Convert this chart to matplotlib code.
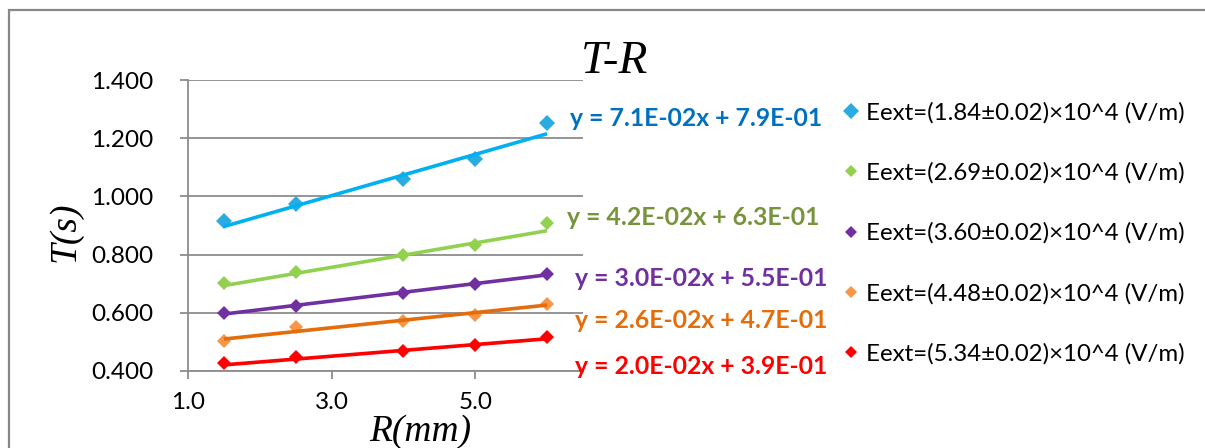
import numpy as np
import matplotlib
matplotlib.use("Agg")
import matplotlib.pyplot as plt
from matplotlib.patches import Rectangle
from matplotlib.ticker import FormatStrFormatter

# radius R (mm) and period T (s) for each external field
R = [1.5, 2.5, 4.0, 5.0, 6.0]
T_184 = [0.916, 0.974, 1.059, 1.128, 1.252]
T_269 = [0.703, 0.741, 0.798, 0.833, 0.908]
T_360 = [0.598, 0.624, 0.667, 0.699, 0.732]
T_448 = [0.503, 0.549, 0.572, 0.591, 0.630]
T_534 = [0.425, 0.448, 0.469, 0.488, 0.516]

legend_labels = [
    "Eext=(1.84\u00b10.02)\u00d710^4 (V/m)",
    "Eext=(2.69\u00b10.02)\u00d710^4 (V/m)",
    "Eext=(3.60\u00b10.02)\u00d710^4 (V/m)",
    "Eext=(4.48\u00b10.02)\u00d710^4 (V/m)",
    "Eext=(5.34\u00b10.02)\u00d710^4 (V/m)",
]

# linear trendlines y = a*x + b
slopes = [7.1e-02, 4.2e-02, 3.0e-02, 2.6e-02, 2.0e-02]
intercepts = [7.9e-01, 6.3e-01, 5.5e-01, 4.7e-01, 3.9e-01]

series = [T_184, T_269, T_360, T_448, T_534]
marker_colors = ["#2AACE2", "#92D050", "#7030A0", "#F79646", "#FF0000"]
line_colors = ["#00B0F0", "#92D050", "#7030A0", "#E46C0A", "#FF0000"]
eq_colors = ["#0070C0", "#77933C", "#7030A0", "#E46C0A", "#FF0000"]
marker_sizes = [8.5, 7, 7, 7, 7]
eq_pos = [(570, 118), (567, 217), (575, 278), (575, 321), (575, 366)]

W, H = 1205, 448
fig = plt.figure(figsize=(W / 100, H / 100), dpi=100)
fig.patch.set_facecolor("white")

# chart frame
fig.patches.append(Rectangle((9 / W, -0.1), 1.2, 1 - 10 / H + 0.1, transform=fig.transFigure,
                             fill=False, edgecolor="#878787", linewidth=1.6, zorder=0))

ax = fig.add_axes([188 / W, 1 - 370.7 / H, (583 - 188) / W, (370.7 - 80.3) / H])
ax.set_xlim(1.0, 6.5)
ax.set_ylim(0.4, 1.4)
ax.set_xticks([1.0, 3.0, 5.0])
ax.set_yticks([0.4, 0.6, 0.8, 1.0, 1.2, 1.4])
ax.xaxis.set_major_formatter(FormatStrFormatter("%.1f"))
ax.yaxis.set_major_formatter(FormatStrFormatter("%.3f"))
ax.grid(axis="y", color="#8C8C8C", linewidth=1.3)
ax.set_axisbelow(True)
for side in ["top", "right"]:
    ax.spines[side].set_visible(False)
for side in ["left", "bottom"]:
    ax.spines[side].set_color("#8C8C8C")
    ax.spines[side].set_linewidth(1.3)
ax.tick_params(axis="both", direction="out", length=6, width=1.3, color="#8C8C8C",
               labelsize=17.5)
ax.tick_params(axis="y", pad=19)
ax.tick_params(axis="x", pad=9)
for lab in ax.get_xticklabels() + ax.get_yticklabels():
    lab.set_family("Lato")

x_fit = np.array([R[0], R[-1]])
handles = []
for i, ys in enumerate(series):
    h, = ax.plot(R, ys, linestyle="none", marker="D", markersize=marker_sizes[i],
                 color=marker_colors[i], markeredgewidth=0, zorder=3)
    handles.append(h)
    ax.plot(x_fit, slopes[i] * x_fit + intercepts[i], color=line_colors[i],
            linewidth=2.6, zorder=4, solid_capstyle="butt")
    eq = "y = %.1E" % slopes[i] + "x + %.1E" % intercepts[i]
    fig.text(eq_pos[i][0] / W, 1 - eq_pos[i][1] / H, eq, color=eq_colors[i],
             family="Lato", fontweight="bold", fontsize=17.8, va="center", ha="left")

fig.text(615 / W, 1 - 62 / H, "T-R", family="Liberation Serif", style="italic",
         fontsize=34, ha="center", va="center")
fig.text(65 / W, 1 - 232 / H, "T(s)", family="Liberation Serif", style="italic",
         fontsize=27, ha="center", va="center", rotation=90)
fig.text(420 / W, 1 - 432 / H, "R(mm)", family="Liberation Serif", style="italic",
         fontsize=27, ha="center", va="center")

leg = ax.legend(handles, legend_labels, loc="upper left",
                bbox_to_anchor=(822 / W, 1 - 80 / H), bbox_transform=fig.transFigure,
                frameon=False, handlelength=0.6, handletextpad=0.35, labelspacing=1.62,
                prop={"family": "Lato", "size": 17.3}, numpoints=1, markerscale=0.9)

fig.savefig("out.png", dpi=100)
